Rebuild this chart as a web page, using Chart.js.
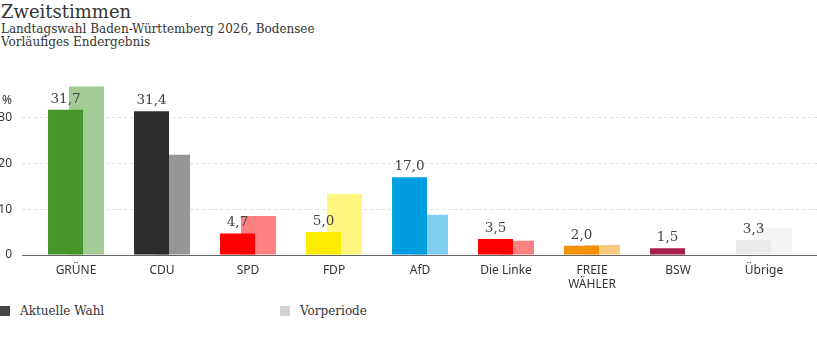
<!DOCTYPE html>
<html lang="de">
<head>
<meta charset="utf-8">
<script src="https://cdn.jsdelivr.net/npm/chart.js@4/dist/chart.umd.min.js"></script>
<style>
  html,body{margin:0;padding:0;background:#fff;width:817px;height:352px;overflow:hidden;position:relative}
  .head{position:absolute;left:1px;top:0;font-family:"DejaVu Serif",serif;color:#333}
  .head h1{margin:0;font-weight:normal;font-size:18px;line-height:23px}
  .head p{margin:0;font-size:12px;line-height:13px}
  #wrap{position:absolute;left:0;top:60px;width:817px;height:240px}
  .legend{position:absolute;top:303px;left:0;font-family:"DejaVu Serif",serif;font-size:12px;color:#333}
  .legend span{position:absolute;white-space:nowrap;line-height:16px}
  .legend i{position:absolute;top:3px;width:10px;height:10px}
</style>
</head>
<body>
<div class="head">
  <h1>Zweitstimmen</h1>
  <p>Landtagswahl Baden-Württemberg 2026, Bodensee</p>
  <p>Vorläufiges Endergebnis</p>
</div>
<div id="wrap"><canvas id="c" width="817" height="240"></canvas></div>
<div class="legend">
  <i style="left:0;background:#444"></i><span style="left:20px">Aktuelle Wahl</span>
  <i style="left:280px;background:#d3d3d3"></i><span style="left:300px">Vorperiode</span>
</div>
<script>
// ---- data ----
const parties  = ["GRÜNE","CDU","SPD","FDP","AfD","Die Linke",["FREIE","WÄHLER"],"BSW","Übrige"];
const current  = [31.7, 31.4, 4.7, 5.0, 17.0, 3.5, 2.0, 1.5, 3.3];
const previous = [36.8, 21.9, 8.5, 13.3, 8.8, 3.1, 2.2, null, 5.9];
const colCur   = ["#46962b","#2e2d2b","#ff0000","#ffed00","#009ee0","#ff0000","#f39200","#a51d4c","#ebebeb"];
const colPrev  = ["#a3cb95","#979695","#ff8080","#fff680","#80cff0","#ff8080","#f9c980","#d28ea5","#f5f5f5"];
const yTicks   = [0, 10, 20, 30];

const FMT = v => v.toLocaleString("de-DE", {minimumFractionDigits:1, maximumFractionDigits:1});

// value labels above current bars
const valueLabels = {
  id:"valueLabels",
  afterDatasetsDraw(chart){
    const ctx = chart.ctx, meta = chart.getDatasetMeta(0);
    ctx.save();
    ctx.font = "13.5px 'DejaVu Serif', serif";
    ctx.fillStyle = "#444";
    ctx.textAlign = "center";
    ctx.textBaseline = "bottom";
    meta.data.forEach((bar,i)=>{ ctx.fillText(FMT(current[i]), bar.x, bar.y - 4); });
    ctx.restore();
  }
};

new Chart(document.getElementById("c"), {
  type:"bar",
  data:{
    datasets:[
      { label:"Aktuelle Wahl", data:current.map((v,i)=>({x:i,y:v})), backgroundColor:colCur },
      { label:"Vorperiode",    data:previous.map((v,i)=>({x:i,y:v})), backgroundColor:colPrev }
    ]
  },
  options:{
    responsive:false, animation:false,
    categoryPercentage:0.488, barPercentage:1.667,
    layout:{padding:{top:21, right:0, left:0, bottom:0}},
    plugins:{ legend:{display:false}, tooltip:{enabled:false} },
    scales:{
      x:{
        type:"linear", min:-0.628, max:8.616, offset:false,
        afterFit: s => { s.height = 45; },
        afterBuildTicks: s => { s.ticks = parties.map((p,i)=>({value:i})); },
        ticks:{ autoSkip:false, maxRotation:0, padding:1, color:"#333",
                font:{family:"'Noto Sans', sans-serif", size:12, lineHeight:1.15},
                callback: v => parties[v] },
        grid:{display:false},
        border:{display:true, color:"#666", width:1}
      },
      y:{
        min:0, max:38,
        afterFit: s => { s.width = 22; },
        afterBuildTicks: s => { s.ticks = yTicks.map(v=>({value:v})).concat([{value:33.8}]); },
        ticks:{ padding:10, color:"#333", font:{family:"'Noto Sans', sans-serif", size:12},
                callback: v => v === 33.8 ? "%" : v },
        grid:{ drawTicks:false, color: c => c.tick && c.tick.value === 33.8 ? "rgba(0,0,0,0)" : (c.tick && c.tick.value === 0 ? "#666" : "#ddd") },
        border:{display:false, dash:[3,3]}
      }
    }
  },
  plugins:[valueLabels]
});
</script>
</body>
</html>
